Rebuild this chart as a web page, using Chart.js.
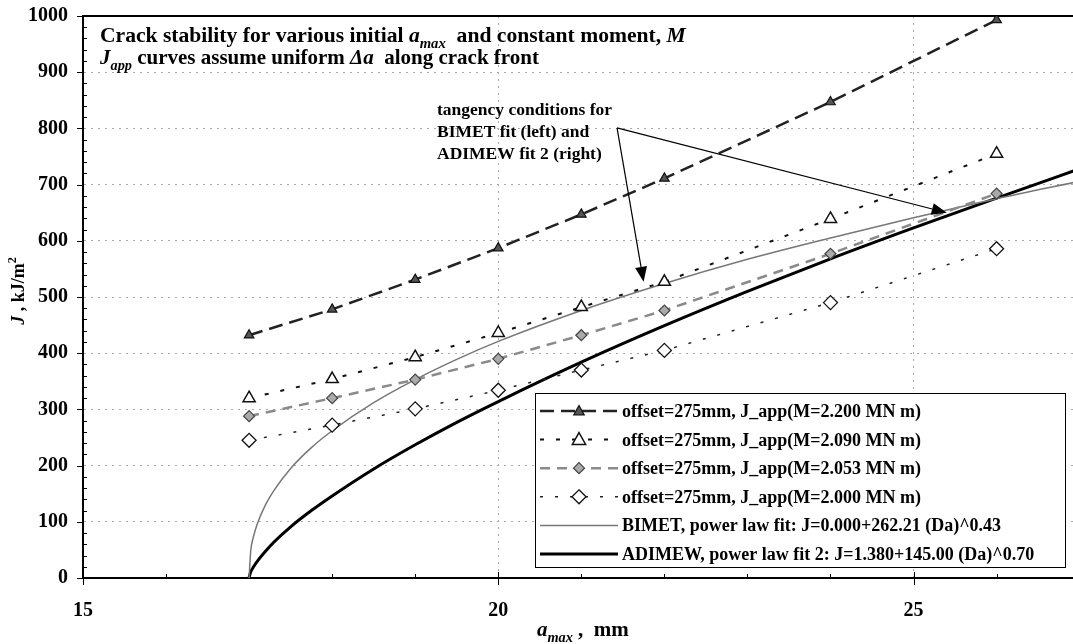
<!DOCTYPE html>
<html>
<head>
<meta charset="utf-8">
<script src="https://cdn.jsdelivr.net/npm/chart.js@4.4.1/dist/chart.umd.min.js"></script>
<style>
  html, body { margin: 0; padding: 0; background: #fff; overflow: hidden; }
</style>
</head>
<body>
<canvas id="chart" width="1073" height="644"></canvas>
<script>
// crack length a_max (mm) where the J_app points were computed
const aMax = [17, 18, 19, 20, 21, 22, 24, 26];
const jM2200 = [432, 478, 531, 587, 647, 711, 847, 993];
const jM2090 = [320, 354, 393, 436, 482, 527, 639, 755];
const jM2053 = [288, 320, 353, 390, 432, 476, 577, 684];
const jM2000 = [245, 272, 301, 334, 370, 405, 490, 586];

// the two power law fits
const fitA = [17, 17.02, 17.05, 17.1, 17.2, 17.3, 17.5, 17.75, 18, 18.5, 19, 19.5, 20, 21, 22, 23, 24, 25, 26, 27];
const jBimet = [0, 49, 72, 97, 131, 156, 195, 232, 262, 312, 353, 389, 421, 476, 524, 567, 605, 641, 675, 706];
const jAdimew = [1, 11, 19, 30, 48, 64, 91, 120, 146, 194, 237, 277, 314, 384, 449, 510, 568, 623, 676, 728];

const seriesLabels = [
    'offset=275mm, J_app(M=2.200 MN m)',
    'offset=275mm, J_app(M=2.090 MN m)',
    'offset=275mm, J_app(M=2.053 MN m)',
    'offset=275mm, J_app(M=2.000 MN m)',
    'BIMET, power law fit: J=0.000+262.21 (Da)^0.43',
    'ADIMEW, power law fit 2: J=1.380+145.00 (Da)^0.70'
];
const xTicks = [15, 20, 25];
const noteLines = ['tangency conditions for', 'BIMET fit (left) and', 'ADIMEW fit 2 (right)'];

const FONT = '"Liberation Serif", "Times New Roman", serif';

function pts(xs, ys) {
    return xs.map((x, i) => ({ x: x, y: ys[i] }));
}

// text with italic / sub / superscript pieces
function drawRich(ctx, parts, x, y, size) {
    let cx = x;
    parts.forEach(p => {
        const small = p.sub || p.sup;
        const s = small ? size * 0.68 : size;
        ctx.font = (p.it ? 'italic ' : '') + 'bold ' + s + 'px ' + FONT;
        const dy = p.sub ? size * 0.28 : (p.sup ? -size * 0.42 : 0);
        ctx.fillText(p.t, cx, y + dy);
        cx += ctx.measureText(p.t).width;
    });
    return cx - x;
}

function marker(ctx, ds, x, y) {
    const r = ds.pointRadius;
    if (!r) return;
    ctx.save();
    ctx.setLineDash([]);
    ctx.fillStyle = ds.pointBackgroundColor;
    ctx.strokeStyle = ds.pointBorderColor;
    ctx.lineWidth = ds.pointBorderWidth;
    ctx.beginPath();
    if (ds.pointStyle === 'triangle') {
        ctx.moveTo(x, y - r);
        ctx.lineTo(x + r * 0.95, y + r * 0.7);
        ctx.lineTo(x - r * 0.95, y + r * 0.7);
    } else {
        ctx.moveTo(x, y - r);
        ctx.lineTo(x + r, y);
        ctx.lineTo(x, y + r);
        ctx.lineTo(x - r, y);
    }
    ctx.closePath();
    ctx.fill();
    ctx.stroke();
    ctx.restore();
}

function arrow(ctx, x1, y1, x2, y2) {
    const ang = Math.atan2(y2 - y1, x2 - x1);
    const len = 15, wid = 6;
    ctx.beginPath();
    ctx.moveTo(x1, y1);
    ctx.lineTo(x2 - Math.cos(ang) * len, y2 - Math.sin(ang) * len);
    ctx.stroke();
    ctx.beginPath();
    ctx.moveTo(x2, y2);
    ctx.lineTo(x2 - Math.cos(ang) * len - Math.sin(ang) * wid, y2 - Math.sin(ang) * len + Math.cos(ang) * wid);
    ctx.lineTo(x2 - Math.cos(ang) * len + Math.sin(ang) * wid, y2 - Math.sin(ang) * len - Math.cos(ang) * wid);
    ctx.closePath();
    ctx.fill();
}

// tick marks, top border, notes, legend and axis titles
const extras = {
    id: 'extras',
    beforeDatasetsDraw(chart) {
        const { ctx, chartArea: ca, scales: { x, y } } = chart;
        ctx.save();
        ctx.strokeStyle = '#000';
        ctx.lineWidth = 1;
        for (let v = 0; v <= 1000; v += 20) {
            const py = Math.round(y.getPixelForValue(v)) + 0.5;
            ctx.beginPath();
            if (v % 100 === 0) { ctx.moveTo(ca.left - 6, py); ctx.lineTo(ca.left, py); }
            else { ctx.moveTo(ca.left, py); ctx.lineTo(ca.left + 4, py); }
            ctx.stroke();
        }
        for (let v = 15; v <= 27; v += 1) {
            const px = Math.round(x.getPixelForValue(v)) + 0.5;
            ctx.beginPath();
            if (v % 5 === 0) { ctx.moveTo(px, ca.bottom - 6); ctx.lineTo(px, ca.bottom + 7); }
            else { ctx.moveTo(px, ca.bottom - 4); ctx.lineTo(px, ca.bottom); }
            ctx.stroke();
        }
        ctx.lineWidth = 2;
        ctx.beginPath();
        ctx.moveTo(ca.left, ca.top);
        ctx.lineTo(ca.right, ca.top);
        ctx.stroke();
        ctx.restore();
    },
    afterDraw(chart) {
        const { ctx, scales: { x, y } } = chart;
        ctx.save();
        ctx.fillStyle = '#000';
        ctx.textBaseline = 'alphabetic';

        // heading inside plot
        drawRich(ctx, [
            { t: 'Crack stability for various initial ' },
            { t: 'a', it: true }, { t: 'max', it: true, sub: true },
            { t: '  and constant moment, ' }, { t: 'M', it: true }
        ], 100, 42, 21.6);
        drawRich(ctx, [
            { t: 'J', it: true }, { t: 'app', it: true, sub: true },
            { t: ' curves assume uniform ' }, { t: '\u0394a', it: true },
            { t: '  along crack front' }
        ], 100, 64, 21);

        // tangency note and arrows
        ctx.font = 'bold 17.5px ' + FONT;
        noteLines.forEach((t, i) => ctx.fillText(t, 437, 115 + i * 22));
        ctx.strokeStyle = '#000';
        ctx.lineWidth = 1.2;
        const ox = x.getPixelForValue(21.43), oy = y.getPixelForValue(801);
        arrow(ctx, ox, oy, x.getPixelForValue(21.75), y.getPixelForValue(527));
        arrow(ctx, ox, oy, x.getPixelForValue(25.4), y.getPixelForValue(650));

        // legend box
        const bx = 535, by = 393, bw = 530, bh = 174;
        ctx.fillStyle = '#fff';
        ctx.fillRect(bx, by, bw, bh);
        ctx.strokeStyle = '#000';
        ctx.lineWidth = 1;
        ctx.strokeRect(bx + 0.5, by + 0.5, bw, bh);
        chart.data.datasets.forEach((ds, i) => {
            const ry = 411 + i * 28.6;
            ctx.save();
            ctx.strokeStyle = ds.borderColor;
            ctx.lineWidth = ds.borderWidth;
            ctx.setLineDash(ds.borderDash || []);
            ctx.beginPath();
            ctx.moveTo(540, ry);
            ctx.lineTo(618, ry);
            ctx.stroke();
            ctx.restore();
            marker(ctx, ds, 579, ry);
            ctx.fillStyle = '#000';
            ctx.font = 'bold 18px ' + FONT;
            ctx.fillText(ds.label, 622, ry + 6);
        });

        // axis titles
        ctx.fillStyle = '#000';
        drawRich(ctx, [
            { t: 'a', it: true }, { t: 'max', it: true, sub: true }, { t: ' ,  mm' }
        ], 537, 636, 21);
        ctx.translate(24, 291);
        ctx.rotate(-Math.PI / 2);
        const parts = [{ t: 'J', it: true }, { t: ' , kJ/m' }, { t: '2', sup: true }];
        let w = 0;
        parts.forEach(p => {
            ctx.font = (p.it ? 'italic ' : '') + 'bold ' + (p.sup ? 18 * 0.68 : 18) + 'px ' + FONT;
            w += ctx.measureText(p.t).width;
        });
        drawRich(ctx, parts, -w / 2, 0, 18);
        ctx.restore();
    }
};

const ctx = document.getElementById('chart').getContext('2d');
new Chart(ctx, {
    type: 'scatter',
    data: {
        datasets: [
            {
                label: seriesLabels[0], data: pts(aMax, jM2200), showLine: true,
                borderColor: '#222', borderWidth: 2.5, borderDash: [14, 7],
                pointStyle: 'triangle', pointRadius: 5.5, pointBackgroundColor: '#555',
                pointBorderColor: '#111', pointBorderWidth: 1.2
            },
            {
                label: seriesLabels[1], data: pts(aMax, jM2090), showLine: true,
                borderColor: '#111', borderWidth: 2, borderDash: [4, 12],
                pointStyle: 'triangle', pointRadius: 7, pointBackgroundColor: '#fff',
                pointBorderColor: '#111', pointBorderWidth: 1.5
            },
            {
                label: seriesLabels[2], data: pts(aMax, jM2053), showLine: true,
                borderColor: '#8a8a8a', borderWidth: 2.5, borderDash: [10, 7],
                pointStyle: 'rectRot', pointRadius: 5.5, pointBackgroundColor: '#aaa',
                pointBorderColor: '#444', pointBorderWidth: 1.2
            },
            {
                label: seriesLabels[3], data: pts(aMax, jM2000), showLine: true,
                borderColor: '#222', borderWidth: 1.5, borderDash: [3, 12],
                pointStyle: 'rectRot', pointRadius: 7, pointBackgroundColor: '#fff',
                pointBorderColor: '#111', pointBorderWidth: 1.3
            },
            {
                label: seriesLabels[4], data: pts(fitA, jBimet), showLine: true,
                borderColor: '#777', borderWidth: 1.5, pointRadius: 0,
                cubicInterpolationMode: 'monotone'
            },
            {
                label: seriesLabels[5], data: pts(fitA, jAdimew), showLine: true,
                borderColor: '#000', borderWidth: 3, pointRadius: 0,
                cubicInterpolationMode: 'monotone'
            }
        ]
    },
    options: {
        responsive: false,
        animation: false,
        layout: { autoPadding: false, padding: { top: 16, left: 0, right: 0, bottom: 0 } },
        plugins: {
            legend: { display: false },
            tooltip: { enabled: false }
        },
        scales: {
            x: {
                type: 'linear', min: 15, max: 26.92,
                afterFit(scale) {
                    scale.height = 66;
                    scale.paddingLeft = 0;
                    scale.paddingRight = 0;
                },
                afterBuildTicks(scale) { scale.ticks = xTicks.map(v => ({ value: v })); },
                grid: { color: '#aaa', drawTicks: false },
                border: { color: '#000', width: 2, dash: [2, 5] },
                ticks: { color: '#000', padding: 21, font: { family: FONT, size: 20, weight: 'bold' } }
            },
            y: {
                min: 0, max: 1000,
                afterFit(scale) {
                    scale.width = 83;
                    scale.paddingTop = 0;
                    scale.paddingBottom = 0;
                },
                grid: { color: '#aaa', drawTicks: false },
                border: { color: '#000', width: 2, dash: [2, 5] },
                ticks: {
                    stepSize: 100, color: '#000', padding: 15,
                    font: { family: FONT, size: 20, weight: 'bold' },
                    callback: v => String(v)
                }
            }
        }
    },
    plugins: [extras]
});
</script>
</body>
</html>
